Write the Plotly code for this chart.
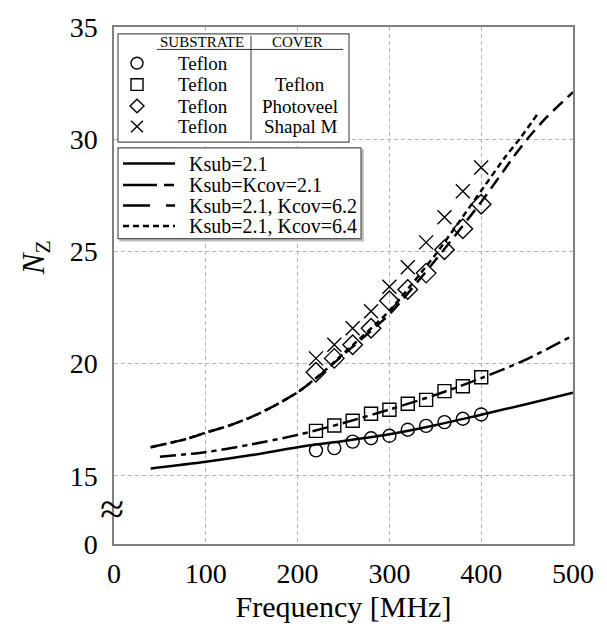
import plotly.graph_objects as go

# ---------------- data ----------------
freq_pts = [220, 240, 260, 280, 300, 320, 340, 360, 380, 400]
nz_teflon = [16.13, 16.23, 16.52, 16.67, 16.78, 17.05, 17.22, 17.39, 17.54, 17.73]
nz_teflon_teflon = [17.0, 17.24, 17.45, 17.76, 17.94, 18.21, 18.38, 18.77, 18.99, 19.39]
nz_teflon_photoveel = [19.61, 20.23, 20.84, 21.57, 22.8, 23.3, 24.03, 25.07, 26.01, 27.1]
nz_teflon_shapal = [20.23, 20.84, 21.57, 22.33, 23.42, 24.29, 25.4, 26.52, 27.68, 28.74]

f_ksub = [40, 100, 150, 200, 250, 300, 350, 400, 450, 500]
nz_ksub = [15.32, 15.62, 15.92, 16.27, 16.55, 16.85, 17.25, 17.72, 18.2, 18.7]

f_kcov21 = [50, 100, 150, 200, 250, 300, 350, 400, 450, 500]
nz_kcov21 = [15.85, 16.05, 16.4, 16.82, 17.35, 17.95, 18.6, 19.35, 20.2, 21.25]

f_kcov62 = [40, 80, 100, 125, 150, 175, 200, 225, 250, 300, 350, 400, 435, 450, 470, 500]
nz_kcov62 = [16.27, 16.65, 16.92, 17.23, 17.62, 18.12, 18.72, 19.5, 20.4, 22.2, 24.6, 27.2, 29.2, 30.0, 30.93, 32.1]

f_kcov64 = [40, 80, 100, 125, 150, 175, 200, 225, 250, 300, 350, 400, 427, 443, 461]
nz_kcov64 = [16.27, 16.65, 16.92, 17.23, 17.62, 18.12, 18.72, 19.52, 20.45, 22.35, 24.85, 27.7, 29.25, 30.07, 31.1]

y_ticks = [15, 20, 25, 30, 35]
x_ticks = [0, 100, 200, 300, 400, 500]
line_names = ["Ksub=2.1", "Ksub=Kcov=2.1", "Ksub=2.1, Kcov=6.2", "Ksub=2.1, Kcov=6.4"]
table_sub = ["Teflon", "Teflon", "Teflon", "Teflon"]
table_cov = ["", "Teflon", "Photoveel", "Shapal M"]

# ---------------- layout geometry ----------------
W, H = 607, 630
L, R, T, B = 114, 573, 21, 551
Y_ZERO = 15 - 70 / 23.0  # broken axis: "0" sits below the break

FONT = '"Liberation Serif", "Times New Roman", Times, "DejaVu Serif", serif'


def px(x):
    return (x - L) / (R - L)


def py(y):
    return (B - y) / (B - T)


fig = go.Figure()

lw = 2.5
fig.add_trace(go.Scatter(x=f_ksub, y=nz_ksub, mode="lines",
                         line=dict(color="black", width=lw, dash="solid", shape="spline", smoothing=0.8),
                         showlegend=False))
fig.add_trace(go.Scatter(x=f_kcov21, y=nz_kcov21, mode="lines",
                         line=dict(color="black", width=lw, dash="16px,5px,5px,5px", shape="spline", smoothing=0.8),
                         showlegend=False))
fig.add_trace(go.Scatter(x=f_kcov62, y=nz_kcov62, mode="lines",
                         line=dict(color="black", width=lw, dash="13px,7px", shape="spline", smoothing=0.6),
                         showlegend=False))
fig.add_trace(go.Scatter(x=f_kcov64, y=nz_kcov64, mode="lines",
                         line=dict(color="black", width=lw, dash="6px,4px", shape="spline", smoothing=0.6),
                         showlegend=False))

mk = dict(color="black", size=13, line=dict(color="black", width=1.4))
fig.add_trace(go.Scatter(x=freq_pts, y=nz_teflon, mode="markers",
                         marker=dict(mk, symbol="circle-open"), showlegend=False))
fig.add_trace(go.Scatter(x=freq_pts, y=nz_teflon_teflon, mode="markers",
                         marker=dict(mk, symbol="square-open"), showlegend=False))
fig.add_trace(go.Scatter(x=freq_pts, y=nz_teflon_photoveel, mode="markers",
                         marker=dict(mk, symbol="diamond-open", size=15), showlegend=False))
fig.add_trace(go.Scatter(x=freq_pts, y=nz_teflon_shapal, mode="markers",
                         marker=dict(mk, symbol="x-thin-open", size=14), showlegend=False))

shapes = []
annos = []

# ---- table legend (box 1) ----
shapes.append(dict(type="rect", xref="paper", yref="paper", layer="above",
                   x0=px(118), x1=px(349), y0=py(139), y1=py(28),
                   line=dict(color="#555555", width=1.2), fillcolor="white"))
shapes.append(dict(type="line", xref="paper", yref="paper", layer="above",
                   x0=px(157), x1=px(343), y0=py(44), y1=py(44),
                   line=dict(color="#333333", width=1)))
shapes.append(dict(type="line", xref="paper", yref="paper", layer="above",
                   x0=px(251), x1=px(251), y0=py(30), y1=py(137),
                   line=dict(color="#333333", width=1)))
annos.append(dict(text="SUBSTRATE", x=px(202), y=py(36), size=15))
annos.append(dict(text="COVER", x=px(297), y=py(36), size=15))
rows = [58, 80, 102, 123]
mx, r = 137, 6
for i, ry in enumerate(rows):
    annos.append(dict(text=table_sub[i], x=px(203), y=py(ry), size=19))
    if table_cov[i]:
        annos.append(dict(text=table_cov[i], x=px(300), y=py(ry), size=19))
sym_line = dict(color="black", width=1.4)
shapes.append(dict(type="circle", xref="paper", yref="paper", layer="above",
                   x0=px(mx - r), x1=px(mx + r), y0=py(rows[0] + r), y1=py(rows[0] - r),
                   line=sym_line))
shapes.append(dict(type="rect", xref="paper", yref="paper", layer="above",
                   x0=px(mx - r), x1=px(mx + r), y0=py(rows[1] + r), y1=py(rows[1] - r),
                   line=sym_line))
d = 7
yy = rows[2]
shapes.append(dict(type="path", xref="paper", yref="paper", layer="above",
                   path=f"M {px(mx - d)} {py(yy)} L {px(mx)} {py(yy - d)} L {px(mx + d)} {py(yy)} L {px(mx)} {py(yy + d)} Z",
                   line=sym_line))
yy = rows[3]
shapes.append(dict(type="path", xref="paper", yref="paper", layer="above",
                   path=f"M {px(mx - r)} {py(yy - r)} L {px(mx + r)} {py(yy + r)} M {px(mx - r)} {py(yy + r)} L {px(mx + r)} {py(yy - r)}",
                   line=sym_line))

# ---- line legend (box 2) ----
shapes.append(dict(type="rect", xref="paper", yref="paper", layer="above",
                   x0=px(120), x1=px(363), y0=py(240), y1=py(147),
                   line=dict(color="#bbbbbb", width=1.5), fillcolor="#bbbbbb"))
shapes.append(dict(type="rect", xref="paper", yref="paper", layer="above",
                   x0=px(118), x1=px(361), y0=py(238), y1=py(145),
                   line=dict(color="#555555", width=1.2), fillcolor="white"))
rows2 = [161, 183, 204, 225]
dashes2 = ["solid", "34px,7px,10px,7px", "27px,16px", "6px,4px"]
for i, ry in enumerate(rows2):
    shapes.append(dict(type="line", xref="paper", yref="paper", layer="above",
                       x0=px(123), x1=px(175), y0=py(ry), y1=py(ry),
                       line=dict(color="black", width=2.5, dash=dashes2[i])))
    annos.append(dict(text=line_names[i], x=px(187), y=py(ry), size=20, xanchor="left"))

# break symbol on the y-axis
annos.append(dict(text="≈", x=px(112), y=py(516), size=44))

# y-axis title
annos.append(dict(text="<i>N</i><sub>Z</sub>", x=px(36), y=py(258), size=31, textangle=-90))

annotations = []
for a in annos:
    annotations.append(dict(text=a["text"], x=a["x"], y=a["y"], xref="paper", yref="paper",
                            showarrow=False, xanchor=a.get("xanchor", "center"), yanchor="middle",
                            textangle=a.get("textangle", 0),
                            font=dict(family=FONT, size=a["size"], color="black")))

fig.update_layout(
    width=W, height=H,
    margin=dict(l=L, r=W - R, t=T, b=H - B, pad=0),
    paper_bgcolor="white", plot_bgcolor="white",
    font=dict(family=FONT, color="black", size=20),
    shapes=shapes, annotations=annotations,
    xaxis=dict(range=[0, 500], tickvals=x_ticks, ticks="", showgrid=True,
               gridcolor="#b4b4b4", griddash="4px,3px", gridwidth=1,
               showline=True, mirror=True, linecolor="#808080", linewidth=1.5,
               zeroline=False, tickfont=dict(family=FONT, size=28, color="black"),
               ticklabelstandoff=4,
               title=dict(text="Frequency [MHz]", font=dict(family=FONT, size=30, color="black"),
                          standoff=8)),
    yaxis=dict(range=[Y_ZERO, 35], tickvals=[Y_ZERO] + y_ticks,
               ticktext=["0"] + [str(v) for v in y_ticks], ticks="", showgrid=True,
               gridcolor="#b4b4b4", griddash="4px,3px", gridwidth=1,
               showline=True, mirror=True, linecolor="#808080", linewidth=1.5,
               zeroline=False, tickfont=dict(family=FONT, size=28, color="black"),
               ticklabelstandoff=9),
)

fig.write_html("out.html")
